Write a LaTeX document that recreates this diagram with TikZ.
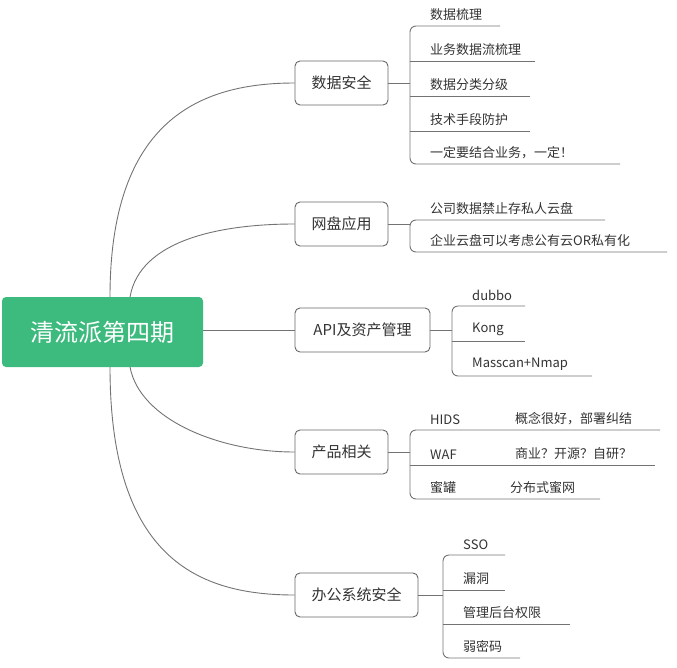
\documentclass[tikz,border=0pt]{standalone}
\usepackage{fontspec}
\setmainfont{Noto Sans CJK SC}
\definecolor{rootg}{HTML}{3DBA7E}
\begin{document}
\begin{tikzpicture}[x=1pt,y=-1pt,
 ln/.style={draw=black!55,line width=0.9pt},
 br/.style={draw=black!60,line width=0.9pt,rounded corners=5pt,fill=white,minimum height=44pt,inner xsep=12pt,font=\fontsize{15}{15}\selectfont,text=black!80},
 lf/.style={anchor=south west,inner sep=0pt,font=\fontsize{13}{13}\selectfont,text=black!80}]
\useasboundingbox (0,0) rectangle (677,667);
\coordinate (r1) at (110,297); \coordinate (r2) at (130,297);
\coordinate (r3) at (203,330); \coordinate (r4) at (130,367); \coordinate (r5) at (110,367);
\node[br,minimum width=93pt] (b1) at (341.5,83) {数据安全};
\node[br,minimum width=93pt] (b2) at (341.5,224) {网盘应用};
\node[br,minimum width=135pt] (b3) at (362.5,330) {API及资产管理};
\node[br,minimum width=93pt] (b4) at (341.5,452) {产品相关};
\node[br,minimum width=123pt] (b5) at (356.5,595) {办公系统安全};
\draw[ln] (r1) .. controls (110,120) and (200,83) .. (b1.west);
\draw[ln] (r2) .. controls (140,240) and (220,224) .. (b2.west);
\draw[ln] (r3) -- (b3.west);
\draw[ln] (r4) .. controls (140,420) and (220,452) .. (b4.west);
\draw[ln] (r5) .. controls (110,560) and (200,595) .. (b5.west);
\node[fill=rootg,rounded corners=4pt,minimum width=201pt,minimum height=70pt,text=white,font=\fontsize{24}{24}\selectfont] (root) at (102.5,332) {清流派第四期};
% 数据安全
\draw[ln] (b1.east) -- (410,83);
\draw[ln,rounded corners=6pt] (500,26) -- (410,26) -- (410,164) -- (620,164);
\foreach \y/\e in {61/535,96/530,131/530}{\draw[ln] (410,\y) -- (\e,\y);}
\foreach \y/\t in {26/数据梳理,61/业务数据流梳理,96/数据分类分级,131/技术手段防护,164/{一定要结合业务，一定！}}{\node[lf] (t) at (430,\y-5) {\t};}
% 网盘
\draw[ln,rounded corners=6pt] (605,220) -- (410,220) -- (410,252) -- (667,252);
\draw[ln] (b2.east) -- (410,224);
\node[lf] (n1) at (430,215) {公司数据禁止存私人云盘};
\node[lf] (n2) at (430,247) {企业云盘可以考虑公有云OR私有化};
% API
\draw[ln] (b3.east) -- (452,330);
\draw[ln,rounded corners=6pt] (525,306) -- (452,306) -- (452,376) -- (592,376);
\draw[ln] (452,341) -- (525,341);
\node[lf] (a1) at (472,301) {dubbo};
\node[lf] (a2) at (472,336) {Kong};
\node[lf] (a3) at (472,371) {Masscan+Nmap};
% 产品
\draw[ln] (b4.east) -- (410,452);
\draw[ln,rounded corners=6pt] (660,430) -- (410,430) -- (410,499) -- (600,499);
\draw[ln] (410,465) -- (655,465);
\node[lf] (p1) at (430,425) {HIDS};
\node[lf] (p2) at (430,460) {WAF};
\node[lf] (p3) at (430,494) {蜜罐};
\node[lf] (q1) at (515,425) {概念很好，部署纠结};
\node[lf] (q2) at (515,460) {商业？开源？自研？};
\node[lf] (q3) at (510,494) {分布式蜜网};
% 办公
\draw[ln] (b5.east) -- (443,595);
\draw[ln,rounded corners=6pt] (505,555) -- (443,555) -- (443,658) -- (520,658);
\draw[ln] (443,590) -- (505,590);
\draw[ln] (443,624) -- (570,624);
\node[lf] (o1) at (463,550) {SSO};
\node[lf] (o2) at (463,585) {漏洞};
\node[lf] (o3) at (463,619) {管理后台权限};
\node[lf] (o4) at (463,653) {弱密码};
\end{tikzpicture}
\end{document}
